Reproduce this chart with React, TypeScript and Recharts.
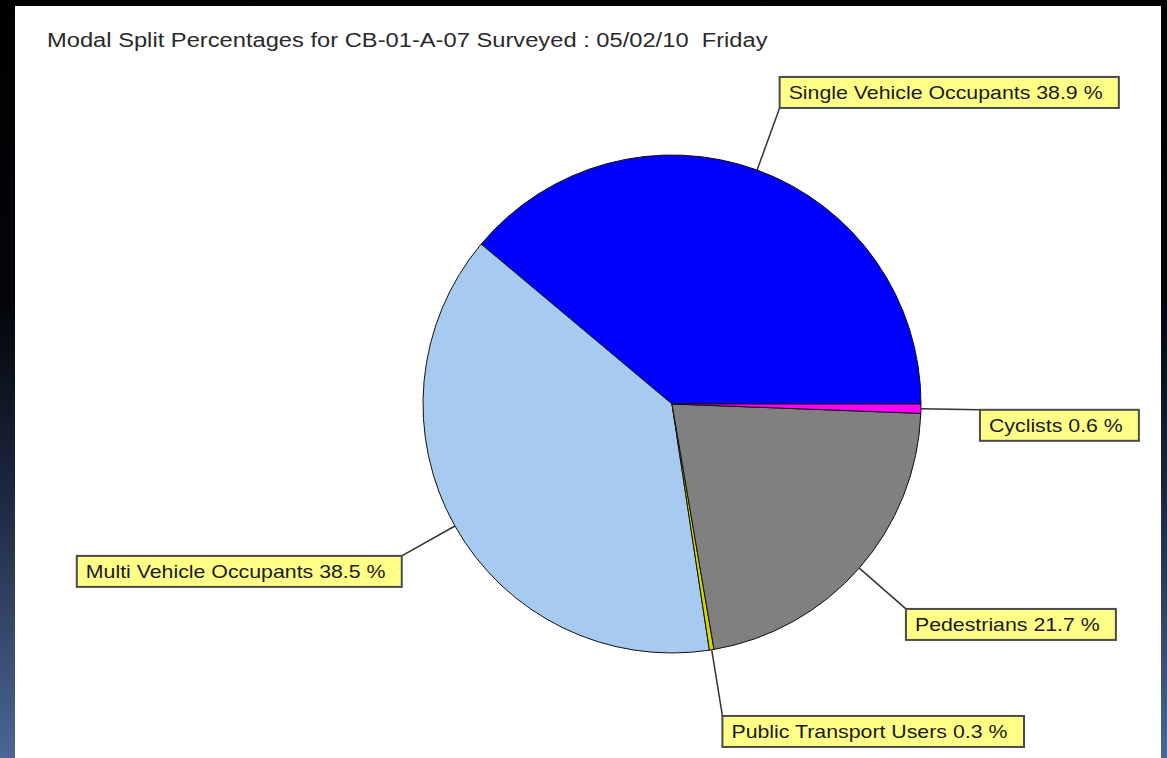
import React from 'react';
import { PieChart, Pie, Cell } from 'recharts';

const TITLE = 'Modal Split Percentages for CB-01-A-07 Surveyed : 05/02/10  Friday';
const CATEGORIES = [
  'Single Vehicle Occupants',
  'Multi Vehicle Occupants',
  'Public Transport Users',
  'Pedestrians',
  'Cyclists',
];
const PERCENTAGES = [38.9, 38.5, 0.3, 21.7, 0.6];
const COLORS = ['#0000FF', '#A6CAF0', '#D4D400', '#808080', '#FF00FF'];

// label layout (leader length beyond the pie edge, per slice)
const LEADER_LEN = [66, 61, 67, 62, 59];

const data = CATEGORIES.map((name, i) => ({ name, value: PERCENTAGES[i] }));

const FONT = '"Liberation Sans", Arial, sans-serif';
const STRETCH = 1.185;

let measureCtx: CanvasRenderingContext2D | null = null;
const measure = (text: string, size: number) => {
  if (!measureCtx && typeof document !== 'undefined') {
    const c = document.createElement('canvas');
    measureCtx = c.getContext('2d');
  }
  if (measureCtx) {
    measureCtx.font = `${size}px "Liberation Sans", Arial, sans-serif`;
    return measureCtx.measureText(text).width;
  }
  return text.length * size * 0.5;
};

const renderLabel = (props: any) => {
  const { cx, cy, midAngle, outerRadius } = props;
  let index = props.index;
  if (index === undefined || index === null) index = CATEGORIES.indexOf(props.name);
  const name = CATEGORIES[index];
  const value = PERCENTAGES[index];
  const a = (midAngle * Math.PI) / 180;
  const cos = Math.cos(a);
  const sin = Math.sin(a);
  const sx = cx + outerRadius * cos;
  const sy = cy - outerRadius * sin;
  const r2 = outerRadius + LEADER_LEN[index];
  const ex = cx + r2 * cos;
  const ey = cy - r2 * sin;
  const text = `${name} ${value.toFixed(1)} %`;
  const fs = 18;
  const tw = measure(text, fs) * STRETCH;
  const w = tw + 25;
  const h = 31;
  const left = cos >= 0 ? ex : ex - w;
  const top = sin > 0 ? ey - h : ey;
  return (
    <g key={`lbl-${index}`}>
      <line x1={sx} y1={sy} x2={ex} y2={ey} stroke="#333" strokeWidth={1.5} />
      <rect x={left} y={top} width={w} height={h} fill="#FFFF88" stroke="#4a4a4a" strokeWidth={2} />
      <text
        transform={`translate(${left + 9},${top + h / 2 + 6.5}) scale(${STRETCH},1)`}
        x={0}
        y={0}
        fontSize={fs}
        fontFamily={FONT}
        fill="#1a1a1a"
      >
        {text}
      </text>
    </g>
  );
};

export default function App() {
  return (
    <div
      style={{
        position: 'fixed',
        left: 0,
        top: 0,
        width: 1167,
        height: 758,
        background: 'linear-gradient(to bottom, #000000 0%, #03050a 40%, #1c2740 65%, #30415f 79%, #4b6696 100%)',
        overflow: 'hidden',
      }}
    >
      <div
        style={{
          position: 'absolute',
          left: 15,
          top: 6,
          width: 1146,
          height: 752,
          background: '#ffffff',
        }}
      />
      <div
        style={{
          position: 'absolute',
          left: 47,
          top: 30,
          fontFamily: FONT,
          fontSize: 20,
          lineHeight: '20px',
          color: '#2a2a2a',
          whiteSpace: 'pre',
          transform: `scaleX(${STRETCH})`,
          transformOrigin: 'left top',
        }}
      >
        {TITLE}
      </div>
      <div style={{ position: 'absolute', left: 0, top: 0 }}>
        <PieChart width={1167} height={758} margin={{ top: 0, right: 0, bottom: 0, left: 0 }}>
          <Pie
            data={data}
            dataKey="value"
            nameKey="name"
            cx={672}
            cy={404}
            outerRadius={249}
            innerRadius={0}
            startAngle={0}
            endAngle={360}
            stroke="#111"
            strokeWidth={1}
            label={renderLabel}
            labelLine={false}
            isAnimationActive={false}
          >
            {data.map((d, i) => (
              <Cell key={d.name} fill={COLORS[i]} />
            ))}
          </Pie>
        </PieChart>
      </div>
    </div>
  );
}
